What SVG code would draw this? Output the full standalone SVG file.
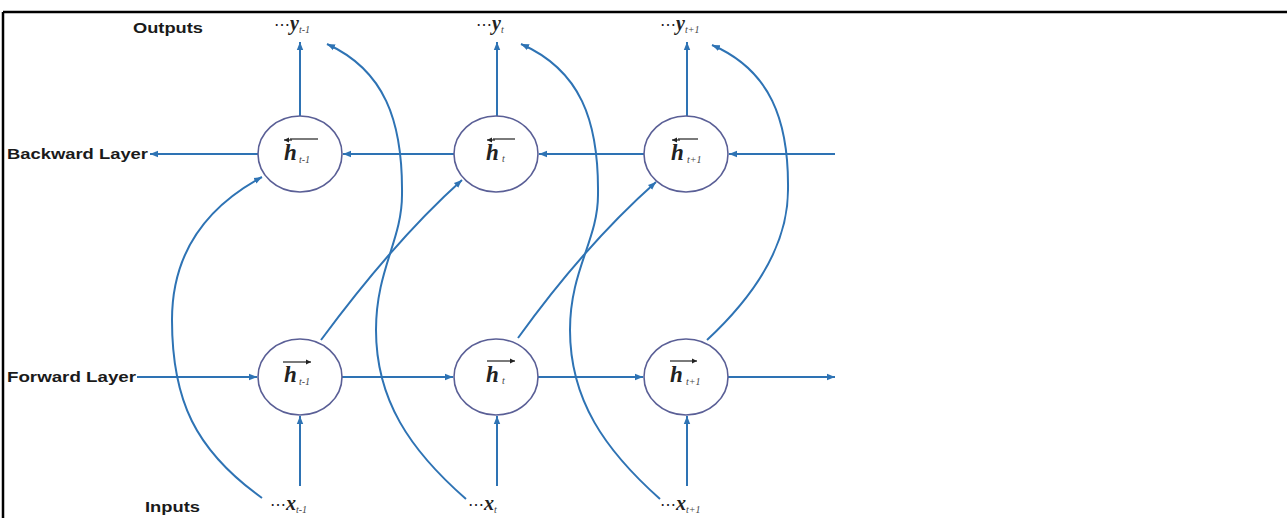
<svg xmlns="http://www.w3.org/2000/svg" width="1287" height="518" viewBox="0 0 1287 518">
<style>
.frame{stroke:#000;stroke-width:2.5;fill:none}
.node{fill:#fff;stroke:#5a5f96;stroke-width:1.6}
.con{stroke:#2e73b4;stroke-width:2;fill:none}
.lbl{font-family:"Liberation Sans",Arial,sans-serif;font-weight:bold;font-size:15px;fill:#1a1a1a}
.h{font-family:"Liberation Serif","Times New Roman",serif;font-weight:bold;font-style:italic;font-size:23px;fill:#222}
.sub{font-family:"Liberation Serif","Times New Roman",serif;font-style:italic;font-size:10px;fill:#444}
.var{font-family:"Liberation Serif","Times New Roman",serif;font-weight:bold;font-style:italic;font-size:20px;fill:#222}
.dots{font-family:"DejaVu Serif","Liberation Serif",serif;font-size:16px;fill:#222}
.ov{stroke:#222;stroke-width:1.2;fill:none}
</style>
<defs>
<marker id="ah" markerUnits="userSpaceOnUse" markerWidth="10" markerHeight="8" refX="8" refY="4" orient="auto">
<path d="M0,0.8 L8,4 L0,7.2 z" fill="#2e73b4"/>
</marker>
<marker id="sa" markerUnits="userSpaceOnUse" markerWidth="6" markerHeight="6" refX="5" refY="3" orient="auto">
<path d="M0,0.5 L5,3 L0,5.5 z" fill="#222"/>
</marker>
</defs>
<rect width="1287" height="518" fill="#fff"/>
<line class="frame" x1="3" y1="12" x2="1287" y2="12"/>
<line class="frame" x1="3" y1="12" x2="3" y2="518"/>

<g id="connectors">
<line class="con" x1="835" y1="154" x2="729" y2="154" marker-end="url(#ah)"/>
<line class="con" x1="644" y1="154" x2="539" y2="154" marker-end="url(#ah)"/>
<line class="con" x1="454" y1="154" x2="343" y2="154" marker-end="url(#ah)"/>
<line class="con" x1="258" y1="154" x2="150" y2="154" marker-end="url(#ah)"/>
<line class="con" x1="137" y1="377" x2="257" y2="377" marker-end="url(#ah)"/>
<line class="con" x1="342" y1="377" x2="453" y2="377" marker-end="url(#ah)"/>
<line class="con" x1="538" y1="377" x2="643" y2="377" marker-end="url(#ah)"/>
<line class="con" x1="728" y1="377" x2="835" y2="377" marker-end="url(#ah)"/>
<line class="con" x1="300" y1="116" x2="300" y2="42" marker-end="url(#ah)"/>
<line class="con" x1="497" y1="116" x2="497" y2="42" marker-end="url(#ah)"/>
<line class="con" x1="687" y1="116" x2="687" y2="42" marker-end="url(#ah)"/>
<line class="con" x1="300" y1="486" x2="300" y2="416" marker-end="url(#ah)"/>
<line class="con" x1="497" y1="486" x2="497" y2="416" marker-end="url(#ah)"/>
<line class="con" x1="687" y1="486" x2="687" y2="416" marker-end="url(#ah)"/>
<path class="con" d="M262 498 C195 450 172 400 172 320 C172 250 210 205 262 177" marker-end="url(#ah)"/>
<path class="con" d="M466 499 C410 450 376 400 376 330 C376 270 402 240 402 195 C403 120 384 70 327 44" marker-end="url(#ah)"/>
<path class="con" d="M660 499 C605 450 570 400 570 330 C570 270 598 240 598 195 C599 120 580 70 521 44" marker-end="url(#ah)"/>
<path class="con" d="M321 340 Q395 240 462 180" marker-end="url(#ah)"/>
<path class="con" d="M518 338 Q585 245 656 182" marker-end="url(#ah)"/>
<path class="con" d="M707 340 C750 300 788 250 788 190 C789 120 770 70 712 45" marker-end="url(#ah)"/>
</g>

<g id="node-b1">
<ellipse class="node" cx="300" cy="154" rx="42" ry="38"/>
<line class="ov" x1="290" y1="139" x2="318" y2="139"/>
<line class="ov" x1="292" y1="140" x2="284" y2="140" marker-end="url(#sa)"/>
<text class="h" x="284" y="160">h</text><text class="sub" x="299" y="163">t-1</text>
</g>
<g id="node-b2">
<ellipse class="node" cx="496" cy="154" rx="42" ry="38"/>
<line class="ov" x1="493" y1="139" x2="515" y2="139"/>
<line class="ov" x1="495" y1="140" x2="487" y2="140" marker-end="url(#sa)"/>
<text class="h" x="486" y="160">h</text><text class="sub" x="502" y="162">t</text>
</g>
<g id="node-b3">
<ellipse class="node" cx="686" cy="154" rx="42" ry="38"/>
<line class="ov" x1="678" y1="139" x2="698" y2="139"/>
<line class="ov" x1="680" y1="140" x2="672" y2="140" marker-end="url(#sa)"/>
<text class="h" x="671" y="160">h</text><text class="sub" x="687" y="163">t+1</text>
</g>
<g id="node-f1">
<ellipse class="node" cx="300" cy="377" rx="42" ry="38"/>
<line class="ov" x1="283" y1="362" x2="311" y2="362" marker-end="url(#sa)"/>
<text class="h" x="284" y="382">h</text><text class="sub" x="299" y="385">t-1</text>
</g>
<g id="node-f2">
<ellipse class="node" cx="496" cy="377" rx="42" ry="38"/>
<line class="ov" x1="487" y1="361" x2="515" y2="361" marker-end="url(#sa)"/>
<text class="h" x="486" y="382">h</text><text class="sub" x="502" y="384">t</text>
</g>
<g id="node-f3">
<ellipse class="node" cx="686" cy="377" rx="42" ry="38"/>
<line class="ov" x1="670" y1="361" x2="697" y2="361" marker-end="url(#sa)"/>
<text class="h" x="670" y="382">h</text><text class="sub" x="686" y="385">t+1</text>
</g>

<g id="label-outputs"><text class="lbl" x="133" y="33" textLength="70" lengthAdjust="spacingAndGlyphs">Outputs</text></g>
<g id="label-backward"><text class="lbl" x="7" y="159" textLength="141" lengthAdjust="spacingAndGlyphs">Backward Layer</text></g>
<g id="label-forward"><text class="lbl" x="7" y="382" textLength="129" lengthAdjust="spacingAndGlyphs">Forward Layer</text></g>
<g id="label-inputs"><text class="lbl" x="145" y="512" textLength="55" lengthAdjust="spacingAndGlyphs">Inputs</text></g>

<g id="out-y1"><text x="274" y="30"><tspan class="dots">⋯</tspan><tspan class="var">y</tspan><tspan class="sub" dy="3">t-1</tspan></text></g>
<g id="out-y2"><text x="476" y="30"><tspan class="dots">⋯</tspan><tspan class="var">y</tspan><tspan class="sub" dy="3">t</tspan></text></g>
<g id="out-y3"><text x="660" y="30"><tspan class="dots">⋯</tspan><tspan class="var">y</tspan><tspan class="sub" dy="3">t+1</tspan></text></g>
<g id="in-x1"><text x="270" y="510"><tspan class="dots">⋯</tspan><tspan class="var">x</tspan><tspan class="sub" dy="3">t-1</tspan></text></g>
<g id="in-x2"><text x="468" y="510"><tspan class="dots">⋯</tspan><tspan class="var">x</tspan><tspan class="sub" dy="3">t</tspan></text></g>
<g id="in-x3"><text x="660" y="510"><tspan class="dots">⋯</tspan><tspan class="var">x</tspan><tspan class="sub" dy="3">t+1</tspan></text></g>
</svg>
